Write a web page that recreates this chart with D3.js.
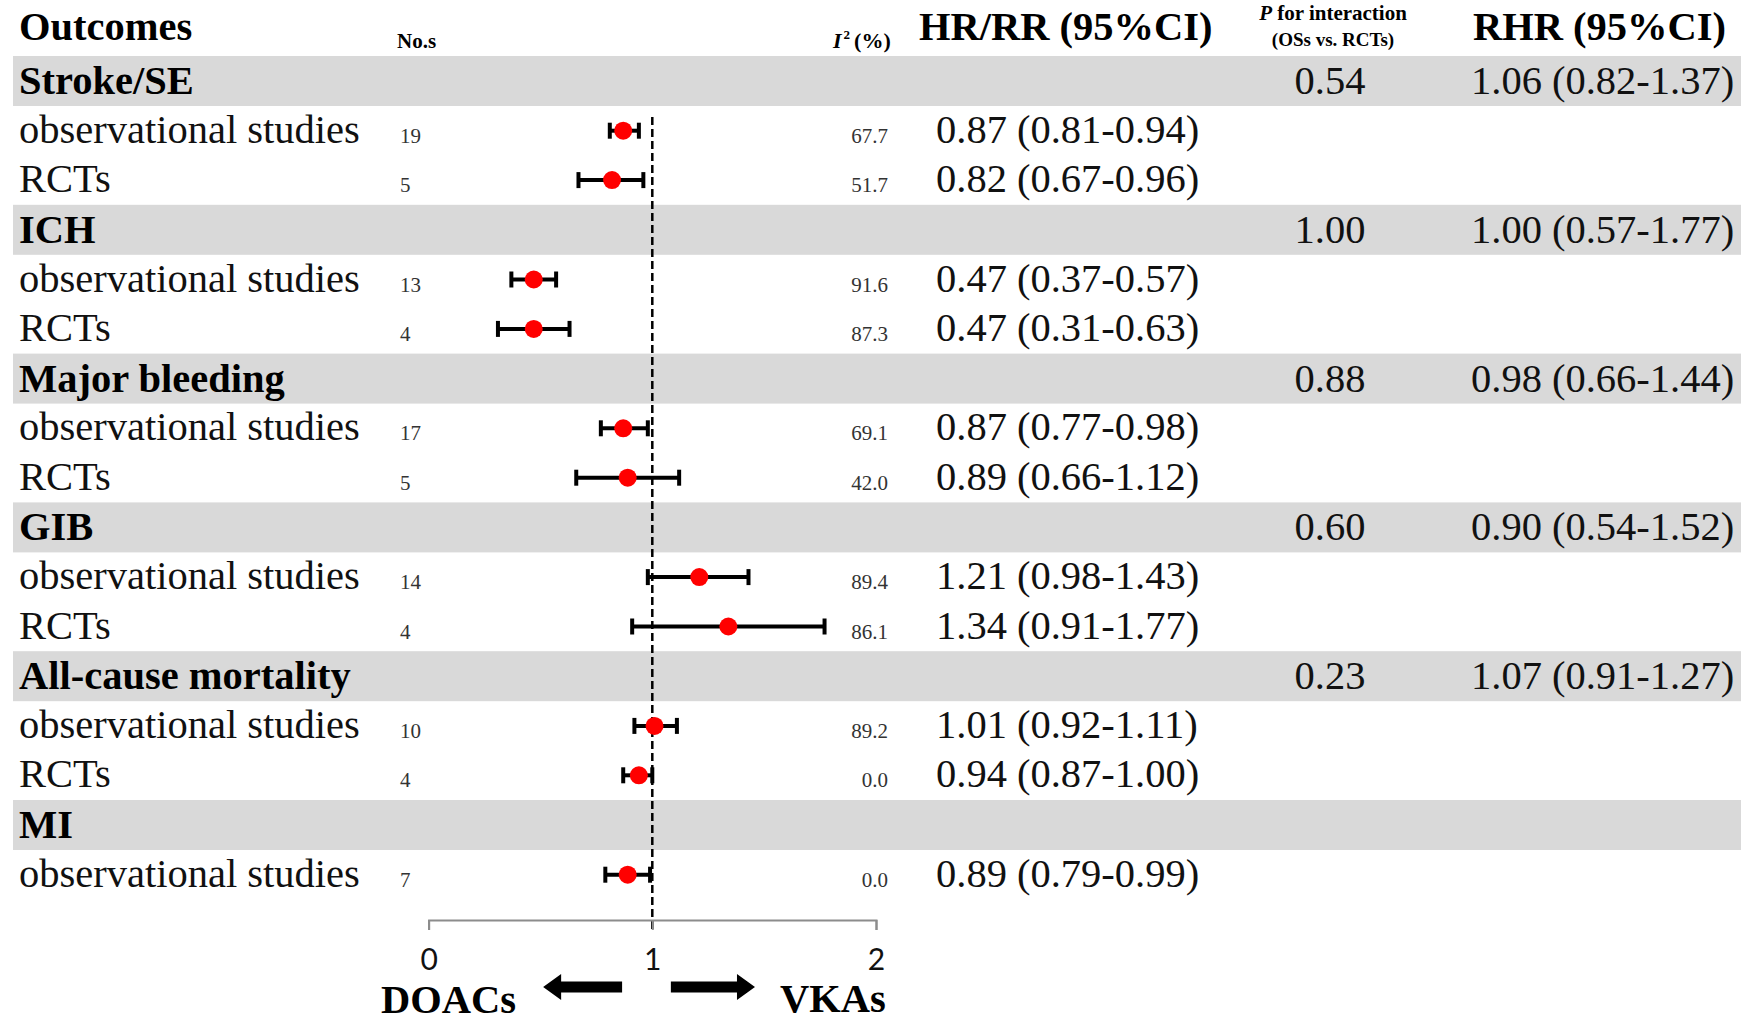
<!DOCTYPE html>
<html>
<head>
<meta charset="utf-8">
<script src="https://cdn.jsdelivr.net/npm/d3@7"></script>
<style>
  html, body { margin: 0; padding: 0; background: #fff; }
  svg { display: block; }
  text { font-family: "Liberation Serif", "Times New Roman", serif; }
  .tick text { font-family: Lato, "Open Sans", sans-serif; }
</style>
</head>
<body>
<svg id="chart" width="1741" height="1021"></svg>
<script>
// Outcome groups and their pooled comparison (OSs vs RCTs)
const outcomes = ["Stroke/SE", "ICH", "Major bleeding", "GIB", "All-cause mortality", "MI"];
const pInteraction = ["0.54", "1.00", "0.88", "0.60", "0.23", ""];
const rhrEst  = [1.06, 1.00, 0.98, 0.90, 1.07, null];
const rhrLow  = [0.82, 0.57, 0.66, 0.54, 0.91, null];
const rhrHigh = [1.37, 1.77, 1.44, 1.52, 1.27, null];

// Sub-rows: outcome index, study design, number of studies, heterogeneity, HR/RR with 95% CI
const rowOutcome = [0, 0, 1, 1, 2, 2, 3, 3, 4, 4, 5];
const rowDesign  = ["observational studies", "RCTs", "observational studies", "RCTs",
                    "observational studies", "RCTs", "observational studies", "RCTs",
                    "observational studies", "RCTs", "observational studies"];
const rowCount   = [19, 5, 13, 4, 17, 5, 14, 4, 10, 4, 7];
const rowI2      = ["67.7", "51.7", "91.6", "87.3", "69.1", "42.0", "89.4", "86.1", "89.2", "0.0", "0.0"];
const rowHR      = [0.87, 0.82, 0.47, 0.47, 0.87, 0.89, 1.21, 1.34, 1.01, 0.94, 0.89];
const rowLow     = [0.81, 0.67, 0.37, 0.31, 0.77, 0.66, 0.98, 0.91, 0.92, 0.87, 0.79];
const rowHigh    = [0.94, 0.96, 0.57, 0.63, 0.98, 1.12, 1.43, 1.77, 1.11, 1.00, 0.99];

const axisTicks = [0, 1, 2];
const arrowLabels = ["DOACs", "VKAs"];

const svg = d3.select("#chart");
const fmt = d3.format(".2f");

// Layout
const top0 = 56, bandH = 50, rowH = 49.4;
const groupH = bandH + 2 * rowH;
const groupTop = i => top0 + i * groupH;
const rowCenter = r => {
  const g = rowOutcome[r];
  const k = rowOutcome.slice(0, r).filter(v => v === g).length;
  return groupTop(g) + bandH + rowH * k + rowH / 2;
};

const x = d3.scaleLinear().domain([0, 2]).range([428.6, 876]);
const axisY = 920;

const colLabel = 19, colN = 400, colI2 = 888, colHR = 936, colP = 1330, colRHR = 1471;
const bigSize = 40.5, smallSize = 21;

// Header
const head = svg.append("g").attr("class", "header");
head.append("text").attr("x", colLabel).attr("y", 40)
  .attr("font-size", bigSize).attr("font-weight", "bold").text("Outcomes");
head.append("text").attr("x", 397).attr("y", 48)
  .attr("font-size", smallSize).attr("font-weight", "bold").text("No.s");
const i2h = head.append("text").attr("x", 833).attr("y", 48)
  .attr("font-size", 22).attr("font-weight", "bold");
i2h.append("tspan").attr("font-style", "italic").text("I");
i2h.append("tspan").attr("dy", -9).attr("dx", 2).attr("font-size", 13).text("2");
i2h.append("tspan").attr("dy", 9).attr("dx", 4).text("(%)");
head.append("text").attr("x", 919).attr("y", 40)
  .attr("font-size", bigSize).attr("font-weight", "bold").text("HR/RR (95%CI)");
const ph = head.append("text").attr("x", 1333).attr("y", 20)
  .attr("font-size", 21).attr("font-weight", "bold").attr("text-anchor", "middle");
ph.append("tspan").attr("font-style", "italic").text("P");
ph.append("tspan").text(" for interaction");
head.append("text").attr("x", 1333).attr("y", 46)
  .attr("font-size", 19).attr("font-weight", "bold").attr("text-anchor", "middle")
  .text("(OSs vs. RCTs)");
head.append("text").attr("x", 1473).attr("y", 40)
  .attr("font-size", bigSize).attr("font-weight", "bold").text("RHR (95%CI)");

// Grey outcome bands with pooled comparison
const groups = svg.append("g").attr("class", "groups")
  .selectAll("g").data(outcomes).join("g")
  .attr("transform", (d, i) => `translate(0,${groupTop(i)})`);
groups.append("rect").attr("x", 13).attr("y", 0).attr("width", 1741 - 13).attr("height", bandH)
  .attr("fill", "#d9d9d9");
groups.append("text").attr("x", colLabel).attr("y", bandH / 2 + 13)
  .attr("font-size", bigSize).attr("font-weight", "bold").text(d => d);
groups.append("text").attr("x", colP).attr("y", bandH / 2 + 13)
  .attr("font-size", bigSize).attr("text-anchor", "middle").attr("fill", "#111")
  .text((d, i) => pInteraction[i]);
groups.append("text").attr("x", colRHR).attr("y", bandH / 2 + 13)
  .attr("font-size", bigSize).attr("fill", "#111")
  .text((d, i) => rhrEst[i] == null ? "" :
    `${fmt(rhrEst[i])} (${fmt(rhrLow[i])}-${fmt(rhrHigh[i])})`);

// Reference line at 1
svg.append("line")
  .attr("x1", x(1)).attr("x2", x(1)).attr("y1", 117).attr("y2", axisY + 10)
  .attr("stroke", "#000").attr("stroke-width", 2.5).attr("stroke-dasharray", "8,4");

// Study rows
const rows = svg.append("g").attr("class", "rows")
  .selectAll("g").data(rowDesign).join("g")
  .attr("transform", (d, i) => `translate(0,${rowCenter(i)})`);
rows.append("text").attr("x", colLabel).attr("y", 12)
  .attr("font-size", bigSize).attr("fill", "#111").text(d => d);
rows.append("text").attr("x", colN).attr("y", 12)
  .attr("font-size", smallSize).attr("fill", "#333").text((d, i) => rowCount[i]);
rows.append("text").attr("x", colI2).attr("y", 12)
  .attr("font-size", smallSize).attr("fill", "#333").attr("text-anchor", "end")
  .text((d, i) => rowI2[i]);
rows.append("text").attr("x", colHR).attr("y", 12)
  .attr("font-size", bigSize).attr("fill", "#111")
  .text((d, i) => `${fmt(rowHR[i])} (${fmt(rowLow[i])}-${fmt(rowHigh[i])})`);

// Confidence intervals and point estimates
const capH = 16;
rows.append("line")
  .attr("x1", (d, i) => x(rowLow[i])).attr("x2", (d, i) => x(rowHigh[i]))
  .attr("y1", 0).attr("y2", 0).attr("stroke", "#000").attr("stroke-width", 4);
rows.append("line")
  .attr("x1", (d, i) => x(rowLow[i])).attr("x2", (d, i) => x(rowLow[i]))
  .attr("y1", -capH / 2).attr("y2", capH / 2).attr("stroke", "#000").attr("stroke-width", 4);
rows.append("line")
  .attr("x1", (d, i) => x(rowHigh[i])).attr("x2", (d, i) => x(rowHigh[i]))
  .attr("y1", -capH / 2).attr("y2", capH / 2).attr("stroke", "#000").attr("stroke-width", 4);
rows.append("circle")
  .attr("cx", (d, i) => x(rowHR[i])).attr("cy", 0).attr("r", 9).attr("fill", "#ff0000");

// Axis
const axis = d3.axisBottom(x).tickValues(axisTicks).tickFormat(d3.format("d"))
  .tickSize(10).tickSizeOuter(10).tickPadding(19);
const ax = svg.append("g").attr("transform", `translate(0,${axisY})`).call(axis);
ax.select(".domain").attr("stroke", "#8c8c8c").attr("stroke-width", 2);
ax.selectAll(".tick line").attr("stroke", "#8c8c8c").attr("stroke-width", 2);
ax.selectAll(".tick text").attr("font-size", 30).attr("fill", "#111");

// Direction arrows
const arrowY = 987, shaft = 11, headH = 26, headL = 18;
const leftArrow = d3.path();
leftArrow.moveTo(x(0.512), arrowY);
leftArrow.lineTo(x(0.512) + headL, arrowY - headH / 2);
leftArrow.lineTo(x(0.512) + headL, arrowY - shaft / 2);
leftArrow.lineTo(x(0.865), arrowY - shaft / 2);
leftArrow.lineTo(x(0.865), arrowY + shaft / 2);
leftArrow.lineTo(x(0.512) + headL, arrowY + shaft / 2);
leftArrow.lineTo(x(0.512) + headL, arrowY + headH / 2);
leftArrow.closePath();
svg.append("path").attr("d", leftArrow.toString()).attr("fill", "#000");

const rightArrow = d3.path();
rightArrow.moveTo(x(1.459), arrowY);
rightArrow.lineTo(x(1.459) - headL, arrowY - headH / 2);
rightArrow.lineTo(x(1.459) - headL, arrowY - shaft / 2);
rightArrow.lineTo(x(1.083), arrowY - shaft / 2);
rightArrow.lineTo(x(1.083), arrowY + shaft / 2);
rightArrow.lineTo(x(1.459) - headL, arrowY + shaft / 2);
rightArrow.lineTo(x(1.459) - headL, arrowY + headH / 2);
rightArrow.closePath();
svg.append("path").attr("d", rightArrow.toString()).attr("fill", "#000");

svg.append("text").attr("x", 381).attr("y", 1013)
  .attr("font-size", bigSize).attr("font-weight", "bold").text(arrowLabels[0]);
svg.append("text").attr("x", 780).attr("y", 1012)
  .attr("font-size", bigSize).attr("font-weight", "bold").text(arrowLabels[1]);
</script>
</body>
</html>
